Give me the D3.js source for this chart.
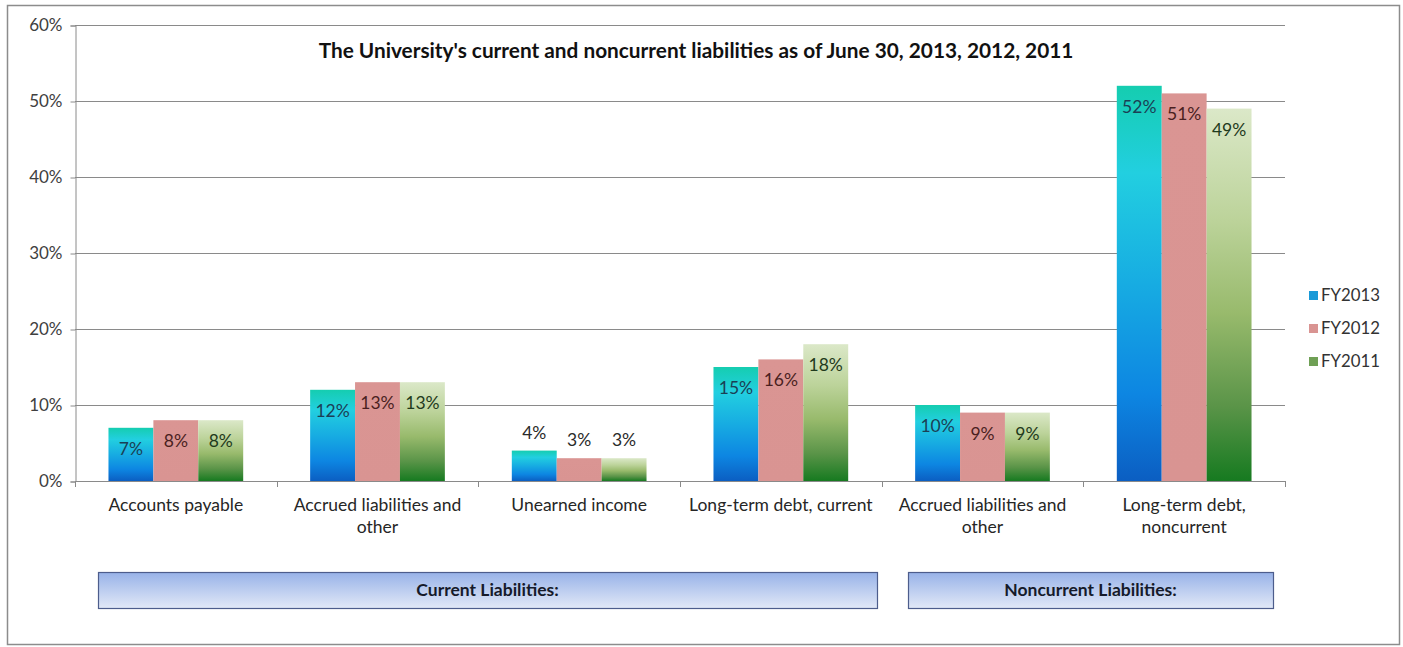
<!DOCTYPE html>
<html>
<head>
<meta charset="utf-8">
<script src="https://cdn.jsdelivr.net/npm/d3@7"></script>
<style>
  html, body { margin: 0; padding: 0; background: #ffffff; }
  svg { display: block; }
  text { font-family: Lato, "Open Sans", sans-serif; }
</style>
</head>
<body>
<svg id="chart" width="1403" height="647"></svg>
<script>
// Liabilities as a share of the total, by fiscal year
const categories = [
  "Accounts payable",
  "Accrued liabilities and other",
  "Unearned income",
  "Long-term debt, current",
  "Accrued liabilities and other (noncurrent)",
  "Long-term debt, noncurrent"
];
const categoryLines = [
  ["Accounts payable"],
  ["Accrued liabilities and", "other"],
  ["Unearned income"],
  ["Long-term debt, current"],
  ["Accrued liabilities and", "other"],
  ["Long-term debt,", "noncurrent"]
];
const series = ["FY2013", "FY2012", "FY2011"];
const fy2013 = [7, 12, 4, 15, 10, 52];
const fy2012 = [8, 13, 3, 16, 9, 51];
const fy2011 = [8, 13, 3, 18, 9, 49];
const yTicks = [0, 10, 20, 30, 40, 50, 60];
const title = "The University's current and noncurrent liabilities as of June 30, 2013, 2012, 2011";
const groupLabels = ["Current Liabilities:", "Noncurrent Liabilities:"];

const valuesBySeries = { FY2013: fy2013, FY2012: fy2012, FY2011: fy2011 };

const svg = d3.select("#chart");
const plot = { left: 75, right: 1285, top: 25, bottom: 481 };

// outer chart frame
svg.append("rect")
  .attr("x", 7.5).attr("y", 5.5)
  .attr("width", 1392).attr("height", 639)
  .attr("fill", "#ffffff")
  .attr("stroke", "#8c8c8c").attr("stroke-width", 1.5);

const x0 = d3.scaleBand().domain(d3.range(categories.length))
  .range([plot.left, plot.right]).paddingInner(0).paddingOuter(0);
const bw = x0.bandwidth();
const x1 = d3.scaleBand().domain(series)
  .range([bw * 0.166, bw * 0.834]).padding(0);
const y = d3.scaleLinear().domain([0, 60]).range([plot.bottom, plot.top]);

// gradients
const defs = svg.append("defs");
function vGrad(id, stops) {
  const g = defs.append("linearGradient").attr("id", id)
    .attr("x1", 0).attr("y1", 0).attr("x2", 0).attr("y2", 1);
  stops.forEach(([o, c]) => g.append("stop").attr("offset", o).attr("stop-color", c));
}
vGrad("g2013", [[0, "#15cdb0"], [0.22, "#22cfe0"], [0.5, "#17ace2"], [0.78, "#0d86e2"], [1, "#0b5ec2"]]);
vGrad("g2012", [[0, "#da9593"], [1, "#d99492"]]);
vGrad("g2011", [[0, "#dbe8c8"], [0.3, "#bcd39a"], [0.55, "#98ba6c"], [0.8, "#5a9448"], [1, "#167a20"]]);
vGrad("gBox", [[0, "#98b2e8"], [1, "#e2e9f7"]]);
const fills = { FY2013: "url(#g2013)", FY2012: "url(#g2012)", FY2011: "url(#g2011)" };
const legendFills = { FY2013: "#1a9ad8", FY2012: "#d99492", FY2011: "#6fa055" };
const labelColors = { FY2013: "#1b3f55", FY2012: "#4a1f1f", FY2011: "#1f3a1c" };

// gridlines
svg.append("g").selectAll("line").data(yTicks.filter(d => d > 0)).join("line")
  .attr("x1", plot.left).attr("x2", plot.right)
  .attr("y1", d => Math.round(y(d)) + 0.5).attr("y2", d => Math.round(y(d)) + 0.5)
  .attr("stroke", "#8a8a8a").attr("stroke-width", 1);

// y axis
const yAxis = d3.axisLeft(y).tickValues(yTicks).tickFormat(d => d + "%").tickSize(5).tickPadding(8);
const gy = svg.append("g").attr("transform", `translate(${plot.left + 0.5},0.5)`).call(yAxis);
gy.select(".domain").attr("stroke", "#8a8a8a");
gy.selectAll(".tick line").attr("stroke", "#8a8a8a");
gy.selectAll(".tick text").attr("font-size", 17).attr("fill", "#404040")
  .attr("font-family", "Lato, sans-serif");

// bars
const groups = svg.append("g").selectAll("g").data(categories).join("g")
  .attr("transform", (d, i) => `translate(${x0(i)},0)`);
groups.each(function (cat, i) {
  const g = d3.select(this);
  series.forEach(s => {
    const v = valuesBySeries[s][i];
    g.append("rect")
      .attr("x", x1(s)).attr("width", x1.bandwidth())
      .attr("y", y(v)).attr("height", y(0) - y(v))
      .attr("fill", fills[s]);
  });
  series.forEach(s => {
    const v = valuesBySeries[s][i];
    const inside = v >= 5;
    g.append("text")
      .attr("x", x1(s) + x1.bandwidth() / 2)
      .attr("y", inside ? y(v) + 27 : y(v) - 12)
      .attr("text-anchor", "middle")
      .attr("font-size", 17.5)
      .attr("fill", inside ? labelColors[s] : "#2a2a2a")
      .text(v + "%");
  });
});

// x axis
const gx = svg.append("g");
gx.append("line").attr("x1", plot.left).attr("x2", plot.right)
  .attr("y1", plot.bottom + 0.5).attr("y2", plot.bottom + 0.5).attr("stroke", "#8a8a8a");
gx.selectAll("line.tick").data(d3.range(categories.length + 1)).join("line")
  .attr("class", "tick")
  .attr("x1", i => Math.round(plot.left + i * bw) + 0.5)
  .attr("x2", i => Math.round(plot.left + i * bw) + 0.5)
  .attr("y1", plot.bottom).attr("y2", plot.bottom + 6).attr("stroke", "#8a8a8a");
gx.selectAll("text.cat").data(categoryLines).join("text")
  .attr("class", "cat")
  .attr("x", (d, i) => x0(i) + bw / 2)
  .attr("y", 511)
  .attr("text-anchor", "middle")
  .attr("font-size", 17.5)
  .attr("fill", "#262626")
  .each(function (lines) {
    const t = d3.select(this);
    lines.forEach((l, k) => {
      t.append("tspan").attr("x", t.attr("x")).attr("dy", k === 0 ? 0 : 22).text(l);
    });
  });

// title
svg.append("text")
  .attr("x", 696).attr("y", 58)
  .attr("text-anchor", "middle")
  .attr("font-size", 20.8).attr("font-weight", "bold").attr("fill", "#111")
  .text(title);

// legend
const leg = svg.append("g");
series.forEach((s, k) => {
  leg.append("rect").attr("x", 1309).attr("y", 291 + k * 33)
    .attr("width", 9).attr("height", 9).attr("fill", legendFills[s]);
  leg.append("text").attr("x", 1321).attr("y", 301 + k * 33)
    .attr("font-size", 16.8).attr("fill", "#333").text(s);
});

// group boxes beneath the categories
const boxes = [
  { label: groupLabels[0], x: 98, w: 779 },
  { label: groupLabels[1], x: 908, w: 365 }
];
boxes.forEach(b => {
  svg.append("rect").attr("x", b.x + 0.5).attr("y", 572.5)
    .attr("width", b.w).attr("height", 36)
    .attr("fill", "url(#gBox)").attr("stroke", "#4d5d8c").attr("stroke-width", 1.2);
  svg.append("text").attr("x", b.x + b.w / 2).attr("y", 596)
    .attr("text-anchor", "middle").attr("font-size", 17.5).attr("font-weight", "bold")
    .attr("fill", "#151a2a").text(b.label);
});
</script>
</body>
</html>
